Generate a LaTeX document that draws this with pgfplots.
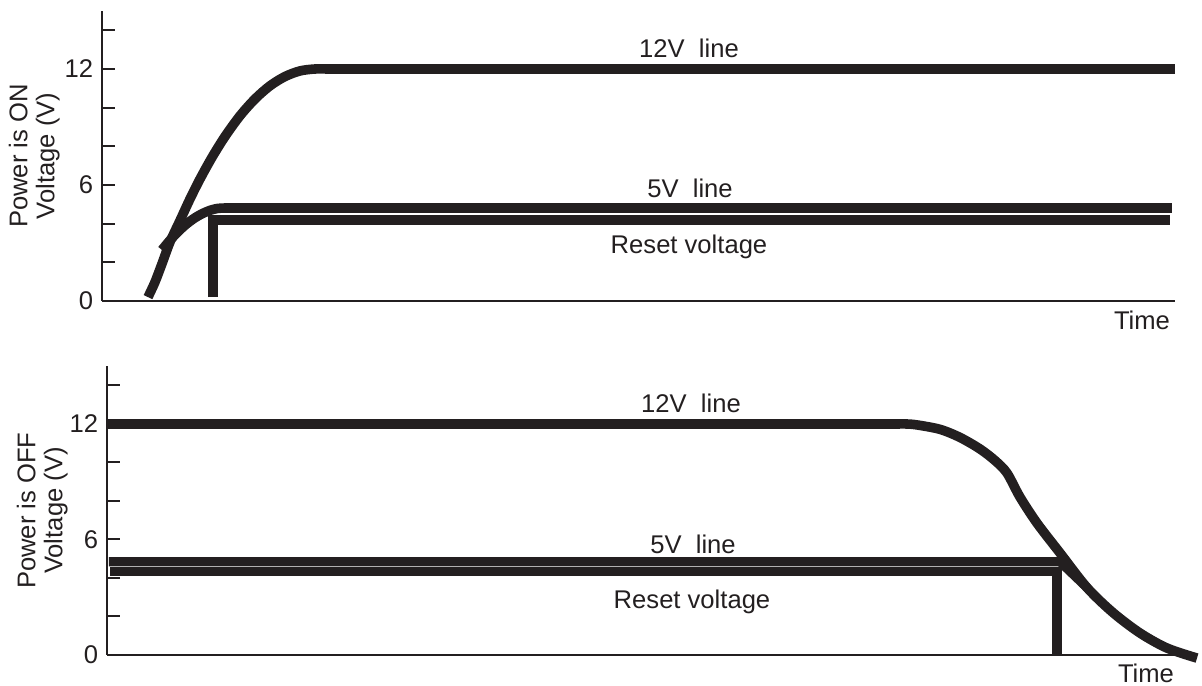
\documentclass[border=0pt]{standalone}
\usepackage{fontspec}
\setmainfont{Liberation Sans}
\usepackage{pgfplots}
\pgfplotsset{compat=1.18}
\definecolor{ink}{HTML}{231F20}
\pgfplotsset{
  volt/.style={
    scale only axis, clip=false,
    axis lines=left, axis line style={-, line width=1bp, ink},
    ymin=0, ymax=15,
    xtick=\empty,
    ytick={0,6,12}, minor ytick={2,4,8,10,14},
    tick align=inside,
    major tick length=6.5bp, minor tick length=6.5bp,
    every tick/.style={line width=1bp, ink},
    tick label style={text=ink},
    /pgf/number format/assume math mode=true,
    ylabel style={align=center, inner sep=0pt, anchor=south, text=ink},
  },
  thick line/.style={line width=4.8bp, ink, no markers},
}
\begin{document}
\fontsize{12.8bp}{13.5bp}\selectfont
\begin{tikzpicture}
\useasboundingbox (0,0) rectangle (601bp,343bp);
% ---------------- Power ON ----------------
\begin{axis}[volt,
  at={(51bp,192.5bp)}, anchor=south west,
  width=536.5bp, height=145bp,
  xmin=102, xmax=1175,
  ylabel={Power is ON\\Voltage (V)},
  ylabel style={at={(axis description cs:-0.039,0.5)}},
]
% 12 V line
\addplot[thick line, smooth, line join=round] coordinates {
 (148,0.2) (155,0.98) (162,1.93) (170,3.05) (180,4.16) (190,5.28)
 (200,6.31) (212,7.43) (225,8.51) (240,9.58) (255,10.45) (270,11.13)
 (285,11.61) (300,11.9) (315,12) (330,12)};
\addplot[thick line] coordinates {(325,12) (1175,12)};
% 5 V line
\addplot[thick line, smooth, line join=round] coordinates {
 (162,2.64) (170,3.14) (178,3.58) (186,3.96) (194,4.27) (202,4.51)
 (210,4.69) (218,4.79) (226,4.81) (234,4.81)};
\addplot[thick line] coordinates {(230,4.81) (1172,4.81)};
% reset voltage
\addplot[thick line, line join=miter] coordinates {
 (213,0.2) (213,4.19) (1170,4.19)};
\node[anchor=base, text=ink] at (axis cs:689,12.57) {12V\ \ line};
\node[anchor=base, text=ink] at (axis cs:690,5.33) {5V\ \ line};
\node[anchor=base, text=ink] at (axis cs:689,2.48) {Reset voltage};
\node[anchor=base, text=ink, yshift=-14.5bp] at (axis cs:1142,0) {Time};
\end{axis}
% ---------------- Power OFF ----------------
\begin{axis}[volt,
  at={(53.5bp,15.5bp)}, anchor=south west,
  width=535bp, height=144.4bp,
  xmin=107, xmax=1177,
  ylabel={Power is OFF\\Voltage (V)},
  ylabel style={at={(axis description cs:-0.0364,0.5)}},
]
% 12 V line
\addplot[thick line] coordinates {(107,12) (900,12)};
\addplot[thick line, smooth, line join=round] coordinates {
 (895,12) (906,12) (917,11.95) (940,11.72) (960,11.3) (980,10.7)
 (995,10.1) (1007,9.45) (1020,8.2) (1037,6.85) (1060,5.3) (1087,3.5)
 (1113,2.2) (1140,1.14) (1167,0.36) (1197,-0.16)};
% 5 V line
\addplot[thick line, line width=4.6bp, line join=miter] coordinates {
 (109,4.84) (1060,4.84) (1088,3.45)};
% reset voltage
\addplot[thick line, line width=4.6bp, line join=miter] coordinates {
 (110,4.33) (1057,4.33) (1057,0)};
\node[anchor=base, text=ink] at (axis cs:691,12.57) {12V\ \ line};
\node[anchor=base, text=ink] at (axis cs:693,5.25) {5V\ \ line};
\node[anchor=base, text=ink] at (axis cs:692,2.39) {Reset voltage};
\node[anchor=base, text=ink, yshift=-13.8bp] at (axis cs:1146,0) {Time};
\end{axis}
\end{tikzpicture}
\end{document}
